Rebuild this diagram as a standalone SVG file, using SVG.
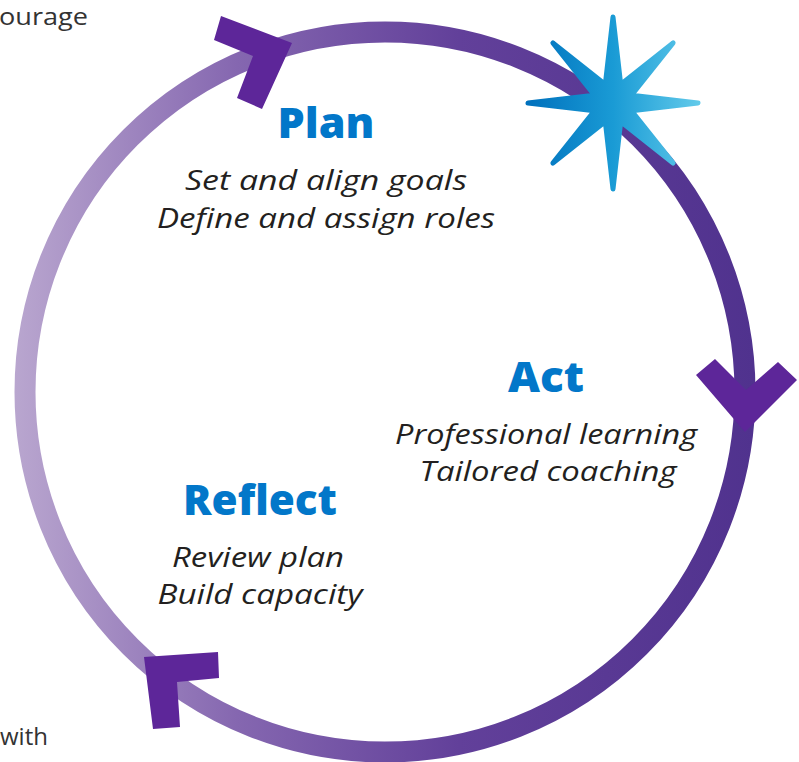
<svg xmlns="http://www.w3.org/2000/svg" width="799" height="762" viewBox="0 0 799 762">
<defs>
<linearGradient id="ringGrad" gradientUnits="userSpaceOnUse" x1="15" y1="0" x2="755" y2="0">
<stop offset="0" stop-color="#b9a6cf"/>
<stop offset="0.3" stop-color="#8567b0"/>
<stop offset="0.6" stop-color="#62409a"/>
<stop offset="1" stop-color="#50328e"/>
</linearGradient>
<linearGradient id="starGrad" gradientUnits="userSpaceOnUse" x1="528" y1="0" x2="699" y2="0">
<stop offset="0" stop-color="#0071bd"/>
<stop offset="0.5" stop-color="#1a9bd5"/>
<stop offset="1" stop-color="#62caea"/>
</linearGradient>
<style>
.head{font-family:"Open Sans","Liberation Sans",sans-serif;font-weight:800;font-size:43px;fill:#0277c9;text-anchor:middle}
.body{font-family:"Open Sans","Liberation Sans",sans-serif;font-style:italic;font-size:28px;fill:#231f20;text-anchor:middle}
.side{font-family:"Open Sans","Liberation Sans",sans-serif;font-size:24px;fill:#333333}
.chev{fill:#5d2699}
</style>
</defs>
<rect width="799" height="762" fill="#ffffff"/>
<text class="side" x="-1" y="25" textLength="89" lengthAdjust="spacingAndGlyphs">ourage</text>
<text class="side" x="0" y="745">with</text>
<g id="connectors">
<circle cx="385" cy="392" r="360" fill="none" stroke="url(#ringGrad)" stroke-width="21"/>
<polygon class="chev" points="221,16 292,43 262,109 237,98 253,56 214,40"/>
<polygon class="chev" points="715,359 746,390 778,362 797,380 745,432 696,375"/>
<polygon class="chev" points="144,657 218,652 219,678 177,682 180,727 153,729"/>
</g>
<g id="star">
<polygon points="698,103 631.5,110.7 673.1,163.1 620.7,121.5 613,189 605.3,121.5 552.9,163.1 594.5,110.7 528,103 594.5,95.3 552.9,42.9 605.3,84.5 613,17 620.7,84.5 673.1,42.9 631.5,95.3" fill="url(#starGrad)" stroke="url(#starGrad)" stroke-width="5" stroke-linejoin="round"/>
</g>
<g id="plan">
<text class="head" x="326" y="138" textLength="97" lengthAdjust="spacingAndGlyphs">Plan</text>
<text class="body" x="326" y="190" textLength="282" lengthAdjust="spacingAndGlyphs">Set and align goals</text>
<text class="body" x="326" y="228" textLength="338" lengthAdjust="spacingAndGlyphs">Define and assign roles</text>
</g>
<g id="act">
<text class="head" x="546" y="392" textLength="76" lengthAdjust="spacingAndGlyphs">Act</text>
<text class="body" x="546" y="444" textLength="302" lengthAdjust="spacingAndGlyphs">Professional learning</text>
<text class="body" x="548" y="481" textLength="257" lengthAdjust="spacingAndGlyphs">Tailored coaching</text>
</g>
<g id="reflect">
<text class="head" x="260" y="515" textLength="154" lengthAdjust="spacingAndGlyphs">Reflect</text>
<text class="body" x="258" y="567" textLength="172" lengthAdjust="spacingAndGlyphs">Review plan</text>
<text class="body" x="260" y="604" textLength="205" lengthAdjust="spacingAndGlyphs">Build capacity</text>
</g>
</svg>
